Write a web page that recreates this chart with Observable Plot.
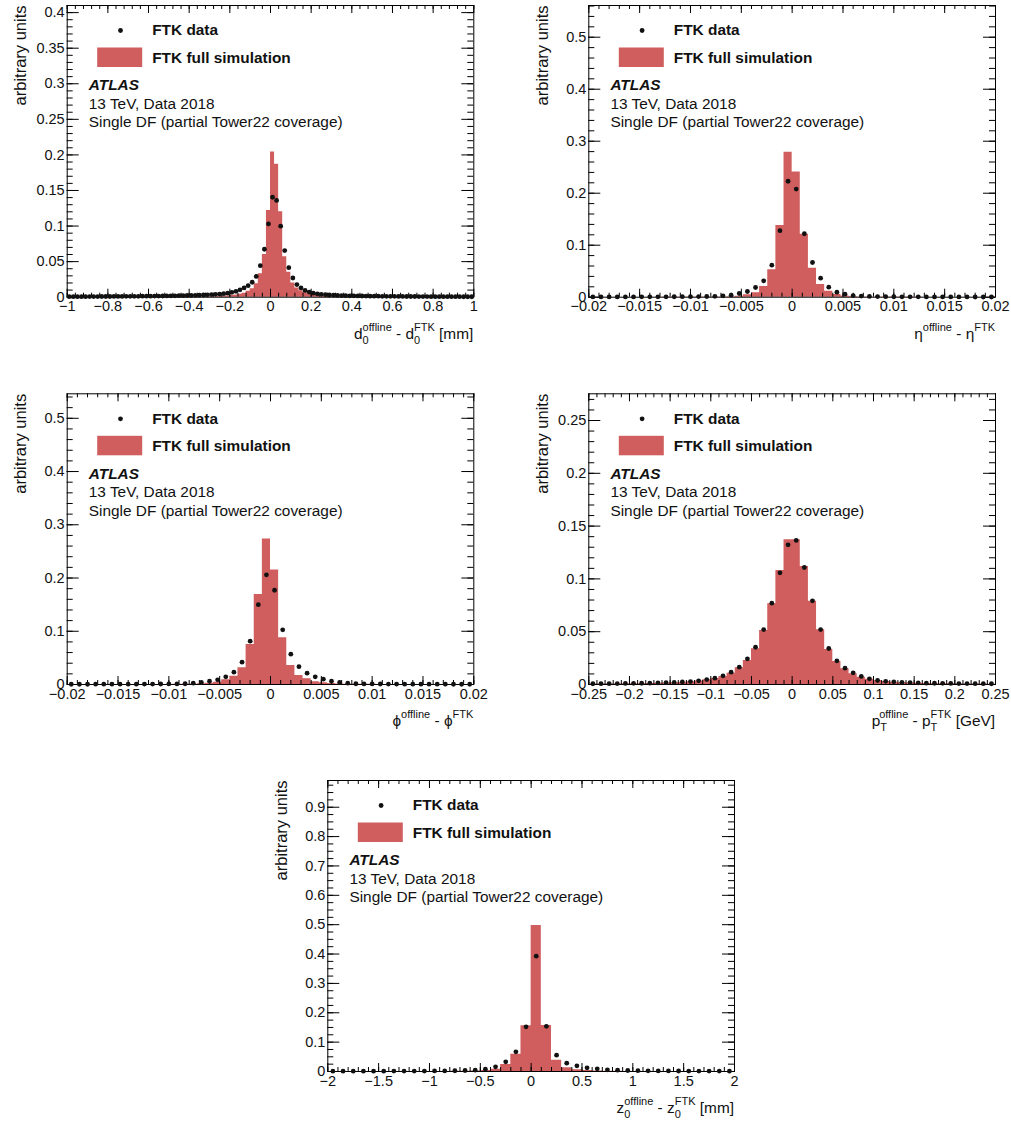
<!DOCTYPE html>
<html><head><meta charset="utf-8">
<script src="https://cdn.jsdelivr.net/npm/d3@7"></script>
<script src="https://cdn.jsdelivr.net/npm/@observablehq/plot@0.6"></script>
<style>
body{margin:0;background:#fff;}
#root{position:relative;width:1011px;height:1124px;overflow:hidden;background:#fff;}
</style></head><body><div id="root"></div>
<script>
// ---------------- data ----------------
// d0: 100 bins on [-1, 1]
const d0Range = [-1, 1];
const d0Data = [0.0007,0.0007,0.0008,0.0008,0.0008,0.0009,0.0009,0.0009,0.001,0.001,
 0.001,0.0011,0.0011,0.0011,0.0012,0.0012,0.0013,0.0013,0.0014,0.0014,
 0.0015,0.0016,0.0016,0.0017,0.0018,0.0019,0.002,0.0021,0.0022,0.0024,
 0.0025,0.0027,0.0029,0.0031,0.0034,0.0037,0.004,0.0044,0.0049,0.0056,
 0.0068,0.0083,0.0103,0.013,0.0162,0.021,0.0292,0.0443,0.0674,0.103,
 0.1405,0.136,0.0998,0.0656,0.0415,0.027,0.0178,0.013,0.0095,0.0072,
 0.0057,0.0047,0.004,0.0035,0.0031,0.0028,0.0025,0.0023,0.0021,0.002,
 0.0019,0.0018,0.0017,0.0016,0.0015,0.0014,0.0014,0.0013,0.0013,0.0012,
 0.0012,0.0011,0.0011,0.001,0.001,0.001,0.0009,0.0009,0.0009,0.0008,
 0.0008,0.0008,0.0008,0.0007,0.0007,0.0007,0.0007,0.0006,0.0006,0.0006];
const d0Sim = [0.0002,0.0002,0.0002,0.0002,0.0002,0.0002,0.0002,0.0002,0.0002,0.0002,
 0.0002,0.0002,0.0002,0.0002,0.0002,0.0003,0.0003,0.0003,0.0003,0.0003,
 0.0003,0.0003,0.0003,0.0003,0.0003,0.0004,0.0004,0.0004,0.0004,0.0004,
 0.0004,0.0004,0.0004,0.0004,0.0004,0.0005,0.0007,0.001,0.0013,0.0017,
 0.0023,0.003,0.004,0.0056,0.0085,0.012,0.019,0.033,0.06,0.122,
 0.204,0.187,0.12,0.057,0.035,0.02,0.013,0.009,0.0065,0.005,
 0.0038,0.0028,0.002,0.0014,0.001,0.0007,0.0004,0.0004,0.0004,0.0004,
 0.0004,0.0004,0.0004,0.0004,0.0004,0.0004,0.0003,0.0003,0.0003,0.0003,
 0.0003,0.0003,0.0003,0.0003,0.0003,0.0003,0.0002,0.0002,0.0002,0.0002,
 0.0002,0.0002,0.0002,0.0002,0.0002,0.0002,0.0002,0.0002,0.0002,0.0002];
const d0XTicks = [-1,-0.8,-0.6,-0.4,-0.2,0,0.2,0.4,0.6,0.8,1];
const d0YTicks = [0,0.05,0.1,0.15,0.2,0.25,0.3,0.35,0.4];

// eta: 50 bins on [-0.02, 0.02]
const etaRange = [-0.02, 0.02];
const etaData = [0.0005,0.0005,0.0005,0.0006,0.0006,0.0006,0.0007,0.0007,0.0008,0.0008,
 0.0009,0.001,0.0011,0.0012,0.0013,0.0017,0.0026,0.0038,0.0071,0.011,
 0.0187,0.0314,0.0615,0.128,0.223,0.208,0.122,0.0667,0.0365,0.0192,
 0.0096,0.0058,0.0032,0.0022,0.0015,0.0012,0.001,0.0009,0.0008,0.0007,
 0.0007,0.0006,0.0006,0.0005,0.0005,0.0005,0.0005,0.0004,0.0004,0.0004];
const etaSim = [0.0001,0.0001,0.0001,0.0001,0.0001,0.0001,0.0001,0.0001,0.0001,0.0002,
 0.0002,0.0002,0.0002,0.0003,0.0003,0.0004,0.0005,0.0009,0.002,0.0046,
 0.0085,0.0205,0.0526,0.138,0.279,0.241,0.121,0.0555,0.0244,0.0113,
 0.005,0.0024,0.0012,0.0006,0.0004,0.0003,0.0003,0.0002,0.0002,0.0002,
 0.0002,0.0001,0.0001,0.0001,0.0001,0.0001,0.0001,0.0001,0.0001,0.0001];
const etaXTicks = [-0.02,-0.015,-0.01,-0.005,0,0.005,0.01,0.015,0.02];
const etaYTicks = [0,0.1,0.2,0.3,0.4,0.5];

// phi: 50 bins on [-0.02, 0.02]
const phiRange = [-0.02, 0.02];
const phiData = [0.0005,0.0005,0.0005,0.0006,0.0006,0.0006,0.0007,0.0007,0.0007,0.0008,
 0.0008,0.0009,0.001,0.0011,0.0014,0.0025,0.0038,0.0063,0.0088,0.0144,
 0.0231,0.042,0.0813,0.15,0.206,0.177,0.1026,0.057,0.0335,0.0213,
 0.0144,0.01,0.0063,0.0038,0.0025,0.0014,0.0011,0.001,0.0009,0.0008,
 0.0008,0.0007,0.0007,0.0007,0.0006,0.0006,0.0006,0.0005,0.0005,0.0005];
const phiSim = [0.0001,0.0001,0.0001,0.0001,0.0001,0.0001,0.0001,0.0001,0.0001,0.0002,
 0.0002,0.0002,0.0002,0.0003,0.0004,0.0006,0.0012,0.0022,0.0044,0.0088,
 0.0156,0.0313,0.075,0.169,0.2735,0.215,0.0877,0.0357,0.0169,0.0106,
 0.005,0.0035,0.002,0.0011,0.0006,0.0004,0.0003,0.0003,0.0002,0.0002,
 0.0002,0.0002,0.0001,0.0001,0.0001,0.0001,0.0001,0.0001,0.0001,0.0001];
const phiXTicks = [-0.02,-0.015,-0.01,-0.005,0,0.005,0.01,0.015,0.02];
const phiYTicks = [0,0.1,0.2,0.3,0.4,0.5];

// pT: 50 bins on [-0.25, 0.25]
const ptRange = [-0.25, 0.25];
const ptData = [0.0007,0.0008,0.0008,0.0009,0.001,0.0011,0.0012,0.0013,0.0015,0.0017,
 0.002,0.0024,0.0028,0.0035,0.0047,0.006,0.0082,0.0117,0.0164,0.0243,
 0.0353,0.052,0.077,0.1058,0.1323,0.1364,0.1108,0.0792,0.052,0.0341,
 0.0224,0.0155,0.0111,0.0076,0.0054,0.0038,0.003,0.0025,0.0021,0.0018,
 0.0015,0.0013,0.0012,0.0011,0.001,0.0009,0.0009,0.0008,0.0008,0.0007];
const ptSim = [0.0004,0.0004,0.0005,0.0005,0.0006,0.0007,0.0008,0.0009,0.0011,0.0014,
 0.0017,0.0021,0.0027,0.0034,0.0044,0.0057,0.0076,0.0107,0.0158,0.0227,
 0.0338,0.0511,0.0764,0.108,0.137,0.137,0.1117,0.0789,0.0518,0.0331,
 0.0218,0.0148,0.0101,0.0069,0.005,0.0038,0.0029,0.0022,0.0017,0.0014,
 0.0011,0.0009,0.0008,0.0007,0.0006,0.0005,0.0005,0.0004,0.0004,0.0003];
const ptXTicks = [-0.25,-0.2,-0.15,-0.1,-0.05,0,0.05,0.1,0.15,0.2,0.25];
const ptYTicks = [0,0.05,0.1,0.15,0.2,0.25];

// z0: 40 bins on [-2, 2]
const z0Range = [-2, 2];
const z0Data = [0.001,0.001,0.0011,0.0011,0.0012,0.0012,0.0013,0.0014,0.0015,0.0016,
 0.0018,0.002,0.0025,0.0034,0.0045,0.008,0.016,0.033,0.067,0.152,
 0.3927,0.154,0.0556,0.0284,0.0193,0.0125,0.009,0.0057,0.0045,0.0034,
 0.0028,0.0024,0.0021,0.0019,0.0017,0.0016,0.0015,0.0014,0.0013,0.0012];
const z0Sim = [0.0002,0.0002,0.0002,0.0002,0.0002,0.0002,0.0002,0.0003,0.0003,0.0003,
 0.0004,0.0004,0.0008,0.0012,0.002,0.0034,0.008,0.0235,0.059,0.156,
 0.497,0.157,0.0386,0.0125,0.0057,0.0034,0.002,0.0012,0.0008,0.0004,
 0.0004,0.0003,0.0003,0.0003,0.0002,0.0002,0.0002,0.0002,0.0002,0.0002];
const z0XTicks = [-2,-1.5,-1,-0.5,0,0.5,1,1.5,2];
const z0YTicks = [0,0.1,0.2,0.3,0.4,0.5,0.6,0.7,0.8,0.9];

const legendLabels = ["FTK data", "FTK full simulation"];
const infoLines = ["ATLAS", "13 TeV, Data 2018", "Single DF (partial Tower22 coverage)"];
const yTitle = "arbitrary units";

// ---------------- drawing ----------------
const FONT = "'Liberation Sans', Arial, Helvetica, sans-serif";
const RED = "#d15e5e";
const fmt = d => { const v = Math.round(d * 1e6) / 1e6; return v === 0 ? "0" : (v < 0 ? "\u2212" : "") + String(Math.abs(v)); };
function steps(lo, hi, step) {
  const out = [], k0 = Math.ceil(lo / step - 1e-6), k1 = Math.floor(hi / step + 1e-6);
  for (let k = k0; k <= k1; k++) out.push(Math.round(k * step * 1e9) / 1e9);
  return out;
}
const subW = {"0": 6.1, "T": 6.7};

function panel(c) {
  const mL = c.fx0 - c.left, mR = c.left + c.W - c.fx1, mT = c.fy0 - c.top, mB = c.top + c.H - c.fy1;
  const pw = c.fx1 - c.fx0, ph = c.fy1 - c.fy0;
  const [x0, x1] = c.xDomain;
  const bw = (x1 - x0) / c.sim.length;
  const steps_ = c.sim.map((v, i) => ({x: x0 + i * bw, y: v}));
  steps_.push({x: x1, y: c.sim[c.sim.length - 1]});
  const pts = c.data.map((v, i) => ({x: x0 + (i + 0.5) * bw, y: v}));
  const xMin = steps(x0, x1, c.xMinor), yMin = steps(c.yDomain[0], c.yDomain[1], c.yMinor);
  const tk = {stroke: "#000", strokeWidth: 1};
  const txt = {frameAnchor: "top-left", textAnchor: "start", lineAnchor: "middle", fill: "#111", fontSize: 15.4};
  const svg = Plot.plot({
    width: c.W, height: c.H, marginLeft: mL, marginRight: mR, marginTop: mT, marginBottom: mB,
    x: {domain: c.xDomain, label: null}, y: {domain: c.yDomain, label: null},
    style: {fontFamily: FONT, color: "#000", background: "transparent", overflow: "visible"},
    marks: [
      Plot.areaY(steps_, {x: "x", y: "y", curve: "step-after", fill: RED}),
      Plot.tickX(xMin, {x: d => d, insetTop: ph - 4, ...tk}),
      Plot.tickX(xMin, {x: d => d, insetBottom: ph - 4, ...tk}),
      Plot.tickX(c.xTicks, {x: d => d, insetTop: ph - 8, ...tk}),
      Plot.tickX(c.xTicks, {x: d => d, insetBottom: ph - 8, ...tk}),
      Plot.tickY(yMin, {y: d => d, insetRight: pw - 6, ...tk}),
      Plot.tickY(yMin, {y: d => d, insetLeft: pw - 6, ...tk}),
      Plot.tickY(c.yTicks, {y: d => d, insetRight: pw - 12, ...tk}),
      Plot.tickY(c.yTicks, {y: d => d, insetLeft: pw - 12, ...tk}),
      Plot.frame({stroke: "#000", strokeWidth: 1}),
      Plot.axisX(c.xTicks, {tickSize: 0, tickPadding: 4, tickFormat: fmt, fontSize: 14.5, label: null, fill: "#111"}),
      Plot.axisY(c.yTicks, {tickSize: 0, tickPadding: 2.5, tickFormat: fmt, fontSize: 14.5, label: null, fill: "#111"}),
      Plot.dot(pts, {x: "x", y: "y", r: 2.4, fill: "#111"}),
      Plot.dot([legendLabels[0]], {frameAnchor: "top-left", dx: 53.3, dy: 25, r: 2.4, fill: "#111"}),
      Plot.text([legendLabels[0]], {...txt, dx: 85, dy: 25, fontWeight: "bold"}),
      Plot.text([legendLabels[1]], {...txt, dx: 85, dy: 52.5, fontWeight: "bold"}),
      Plot.text([infoLines[0]], {...txt, dx: 21.6, dy: 80, fontWeight: "bold", fontStyle: "italic"}),
      Plot.text([infoLines[1]], {...txt, dx: 21.6, dy: 98.5}),
      Plot.text([infoLines[2]], {...txt, dx: 21.6, dy: 117}),
      Plot.text([yTitle], {frameAnchor: "top-left", dx: 26 - mL, dy: 0, rotate: -90, textAnchor: "end", lineAnchor: "bottom", fontSize: 16.5, fill: "#111"})
    ]
  });
  const s = d3.select(svg);
  s.append("rect").attr("x", mL + 30.5).attr("y", mT + 42.5).attr("width", 45).attr("height", 19.5).attr("fill", RED);
  const t = s.append("text").attr("x", c.fx1 - c.left).attr("y", c.fy1 - c.top + 42)
    .attr("text-anchor", "end").attr("font-family", FONT).attr("font-size", 15.4).attr("fill", "#111");
  let shift = 0;
  c.title.forEach(([main, sub, sup]) => {
    t.append("tspan").attr("dy", -shift).text(main); shift = 0;
    if (sub) { t.append("tspan").attr("font-size", 11).attr("dy", 5).text(sub); shift = 5; }
    if (sup) { t.append("tspan").attr("font-size", 11).attr("dx", sub ? -subW[sub] : 0).attr("dy", -8 - shift).text(sup); shift = -8; }
  });
  svg.style.position = "absolute";
  svg.style.left = c.left + "px";
  svg.style.top = c.top + "px";
  document.getElementById("root").appendChild(svg);
}

panel({left: 0, top: 0, W: 490, H: 360, fx0: 66.7, fx1: 473.3, fy0: 5, fy1: 296.7,
  xDomain: d0Range, yDomain: [0, 0.41], data: d0Data, sim: d0Sim,
  xTicks: d0XTicks, xMinor: 0.04, yTicks: d0YTicks, yMinor: 0.01,
  title: [["d", "0", "offline"], [" - d", "0", "FTK"], [" [mm]"]]});
panel({left: 521, top: 0, W: 490, H: 360, fx0: 588.3, fx1: 995, fy0: 5, fy1: 296.7,
  xDomain: etaRange, yDomain: [0, 0.561], data: etaData, sim: etaSim,
  xTicks: etaXTicks, xMinor: 0.001, yTicks: etaYTicks, yMinor: 0.02,
  title: [["\u03b7", null, "offline"], [" - \u03b7", null, "FTK"]]});
panel({left: 0, top: 388, W: 490, H: 360, fx0: 66.7, fx1: 473.3, fy0: 393.3, fy1: 684,
  xDomain: phiRange, yDomain: [0, 0.546], data: phiData, sim: phiSim,
  xTicks: phiXTicks, xMinor: 0.001, yTicks: phiYTicks, yMinor: 0.02,
  title: [["\u03d5", null, "offline"], [" - \u03d5", null, "FTK"]]});
panel({left: 521, top: 388, W: 490, H: 360, fx0: 588.3, fx1: 995, fy0: 393.3, fy1: 684,
  xDomain: ptRange, yDomain: [0, 0.2753], data: ptData, sim: ptSim,
  xTicks: ptXTicks, xMinor: 0.01, yTicks: ptYTicks, yMinor: 0.01,
  title: [["p", "T", "offline"], [" - p", "T", "FTK"], [" [GeV]"]]});
panel({left: 260, top: 775, W: 490, H: 349, fx0: 327.3, fx1: 734, fy0: 780, fy1: 1071,
  xDomain: z0Range, yDomain: [0, 0.991], data: z0Data, sim: z0Sim,
  xTicks: z0XTicks, xMinor: 0.1, yTicks: z0YTicks, yMinor: 0.025,
  title: [["z", "0", "offline"], [" - z", "0", "FTK"], [" [mm]"]]});
</script></body></html>
